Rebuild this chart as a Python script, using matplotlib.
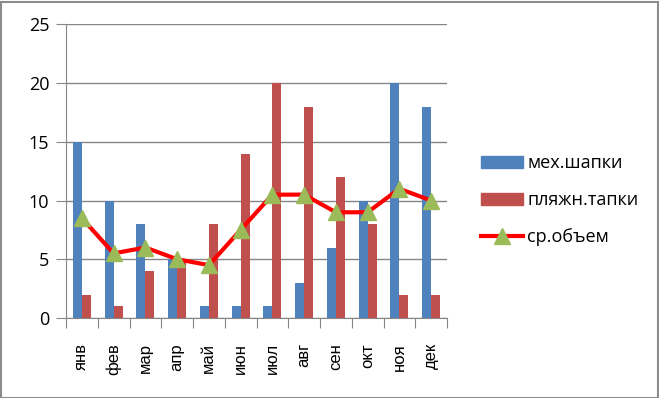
import matplotlib
matplotlib.use("Agg")
import matplotlib.pyplot as plt
import numpy as np
from matplotlib.lines import Line2D
from matplotlib.patches import Patch, Rectangle

months = ["янв", "фев", "мар", "апр", "май", "июн", "июл", "авг", "сен", "окт", "ноя", "дек"]
hats = [15, 10, 8, 5, 1, 1, 1, 3, 6, 10, 20, 18]
slippers = [2, 1, 4, 5, 8, 14, 20, 18, 12, 8, 2, 2]
avg_volume = [8.5, 5.5, 6, 5, 4.5, 7.5, 10.5, 10.5, 9, 9, 11, 10]
series_names = ["мех.шапки", "пляжн.тапки", "ср.объем"]

W, H = 659, 398
fig = plt.figure(figsize=(W / 100, H / 100), dpi=100)
fig.patch.set_facecolor("white")
fig.add_artist(Rectangle((0.5 / W, 0.5 / H), 1 - 2 / W, 1 - 2 / H, transform=fig.transFigure,
                         fill=False, edgecolor="#8c8c8c", linewidth=1.5))

left, right = 66 / W, 447 / W
bottom, top = 1 - 318 / H, 1 - 24.3 / H
ax = fig.add_axes([left, bottom, right - left, top - bottom])

x = np.arange(len(months))
bw = 1 / 3.5
ax.bar(x - bw / 2, hats, width=bw, color="#4F81BD", zorder=2)
ax.bar(x + bw / 2, slippers, width=bw, color="#C0504D", zorder=2)
ax.plot(x, avg_volume, color="#FF0000", linewidth=3, zorder=3,
        marker="^", markersize=12, markerfacecolor="#9BBB59", markeredgecolor="#9BBB59")

ax.set_xlim(-0.5, len(months) - 0.5)
ax.set_ylim(0, 25)
ax.set_yticks([0, 5, 10, 15, 20, 25])
ax.yaxis.grid(True, color="#868686", linewidth=1, zorder=0)
ax.tick_params(axis="y", length=7, color="#868686", labelsize=13, pad=5, direction="out")
for t in ax.get_yticklabels():
    t.set_family("Open Sans")

ax.set_xticks(np.arange(-0.5, len(months), 1))
ax.set_xticklabels([])
ax.tick_params(axis="x", length=7, color="#868686", direction="out")
ax.set_xticks(x, minor=True)
ax.set_xticklabels(months, minor=True, rotation=90, fontsize=12, family="Liberation Sans")
ax.tick_params(axis="x", which="minor", length=0, pad=18)

for s in ["top", "right"]:
    ax.spines[s].set_visible(False)
ax.spines["left"].set_color("#868686")
ax.spines["bottom"].set_color("#868686")

handles = [Patch(color="#4F81BD"), Patch(color="#C0504D"),
           Line2D([0], [0], color="#FF0000", linewidth=3, marker="^", markersize=12,
                  markerfacecolor="#9BBB59", markeredgecolor="#9BBB59")]
fig.legend(handles, series_names, loc="center left", bbox_to_anchor=(465 / W, 1 - 200 / H),
           frameon=False, prop={"family": "Open Sans", "size": 13},
           handlelength=2.3, handleheight=0.65, labelspacing=1.05, handletextpad=0.25)

fig.savefig("out.png", dpi=100)
